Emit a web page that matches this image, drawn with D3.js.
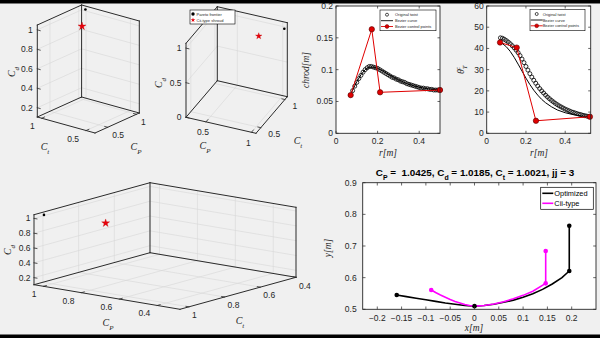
<!DOCTYPE html>
<html><head><meta charset="utf-8">
<script src="https://cdn.jsdelivr.net/npm/d3@7"></script>
<style>
html,body{margin:0;padding:0;background:#f0f0f0;}
svg{display:block;}
text{font-family:"Liberation Sans",Arial,sans-serif;fill:#262626;white-space:pre;}
.tex{font-family:"Liberation Serif","Times New Roman",serif;font-style:italic;}
</style></head><body>
<svg id="c" width="600" height="338"></svg>
<script>
// ---------------- DATA ----------------
// Pareto frontier point (black) and Cii-type shroud (red star) in (CP, Ct, Cd)
const paretoCP = [1.0425], paretoCt = [1.0021], paretoCd = [1.0185];
const ciiCP = [0.818], ciiCt = [0.895], ciiCd = [0.933];
// 3D tick labels
const cpTicksA = [0.5, 1], ctTicksA = [0.5, 1], cdTicksA = [0.2, 0.4, 0.6, 0.8, 1];
const cpTicksB = [0.5, 1], ctTicksB = [0.5, 1], cdTicksB = [0, 0.5, 1];
const cpTicksC = [0.4, 0.6, 0.8, 1], ctTicksC = [0.4, 0.6, 0.8, 1], cdTicksC = [0.2, 0.4, 0.6, 0.8, 1];

// chord distribution
const chordR = [0.07,0.08,0.09,0.10,0.11,0.12,0.13,0.14,0.15,0.16,0.17,0.18,0.19,0.20,0.21,0.22,0.23,0.24,0.25,0.26,0.27,0.28,0.29,0.30,0.31,0.32,0.33,0.34,0.35,0.36,0.37,0.38,0.39,0.40,0.41,0.42,0.43,0.44,0.45,0.46,0.47,0.48,0.49,0.50];
const chordVal = [0.060,0.067,0.074,0.080,0.086,0.091,0.096,0.100,0.103,0.105,0.105,0.104,0.103,0.102,0.100,0.098,0.096,0.094,0.092,0.090,0.088,0.087,0.085,0.084,0.082,0.081,0.080,0.078,0.077,0.076,0.075,0.074,0.073,0.072,0.071,0.071,0.070,0.070,0.069,0.069,0.068,0.068,0.068,0.068];
const chordBezR = [0.0705,0.08,0.10,0.12,0.14,0.16,0.18,0.20,0.23,0.26,0.30,0.34,0.38,0.42,0.46,0.50];
const chordBezVal = [0.060,0.068,0.081,0.092,0.100,0.104,0.104,0.102,0.097,0.091,0.084,0.078,0.074,0.071,0.069,0.068];
const chordCtrlR = [0.0705,0.172,0.212,0.50];
const chordCtrlVal = [0.060,0.1634,0.0644,0.068];
const chordXTicks = [0,0.2,0.4], chordYTicks = [0,0.05,0.1,0.15,0.2];

// twist distribution
const twistR = [0.07,0.08,0.09,0.10,0.11,0.12,0.13,0.14,0.15,0.16,0.17,0.18,0.19,0.20,0.21,0.22,0.23,0.24,0.25,0.26,0.27,0.28,0.29,0.30,0.31,0.32,0.33,0.34,0.35,0.36,0.37,0.38,0.39,0.40,0.41,0.42,0.43,0.44,0.45,0.46,0.47,0.48,0.49,0.50,0.51,0.52];
const twistVal = [45.0,44.8,44.3,43.7,43.0,42.2,41.3,40.3,39.2,38.0,36.6,35.0,33.3,31.5,29.8,28.1,26.5,25.0,23.6,22.3,21.1,20.0,19.0,18.0,17.1,16.3,15.5,14.8,14.1,13.5,12.9,12.4,11.9,11.4,11.0,10.6,10.2,9.9,9.6,9.3,9.0,8.8,8.5,8.3,8.1,7.9];
const twistBezR = [0.068,0.08,0.10,0.12,0.14,0.16,0.18,0.20,0.22,0.24,0.26,0.28,0.30,0.33,0.36,0.40,0.44,0.48,0.525];
const twistBezVal = [42.8,42.3,40.8,38.6,35.8,32.6,29.3,26.0,23.0,20.3,18.0,16.0,14.4,12.5,11.0,9.7,8.8,8.2,7.8];
const twistCtrlR = [0.068,0.153,0.251,0.526];
const twistCtrlVal = [42.8,40.4,5.9,7.8];
const twistXTicks = [0,0.2,0.4], twistYTicks = [0,10,20,30,40,50,60];

// shroud profile
const optX = [-0.16,-0.14,-0.12,-0.10,-0.08,-0.06,-0.04,-0.02,0,0.02,0.04,0.06,0.08,0.10,0.12,0.14,0.16,0.18,0.195,0.195];
const optY = [0.545,0.540,0.535,0.530,0.525,0.520,0.516,0.512,0.510,0.512,0.516,0.522,0.529,0.538,0.549,0.563,0.580,0.600,0.621,0.764];
const optMarkX = [-0.16,0,0.195,0.195], optMarkY = [0.545,0.510,0.621,0.764];
const ciiX = [-0.089,-0.08,-0.07,-0.06,-0.05,-0.04,-0.03,-0.02,-0.01,0,0.02,0.04,0.06,0.08,0.10,0.12,0.1465,0.1465];
const ciiY = [0.561,0.553,0.545,0.538,0.531,0.525,0.520,0.515,0.512,0.510,0.512,0.517,0.524,0.533,0.544,0.557,0.582,0.684];
const ciiMarkX = [-0.089,0.1465,0.1465], ciiMarkY = [0.561,0.582,0.684];
const profXTicks = [-0.2,-0.15,-0.1,-0.05,0,0.05,0.1,0.15,0.2], profYTicks = [0.5,0.6,0.7,0.8,0.9];

// ---------------- DRAW ----------------
const svg = d3.select('#c');
svg.append('rect').attr('width',600).attr('height',338).attr('fill','#f0f0f0');
const INK = '#262626';
const fmt = d3.format('~g');

function sub(t, main, s){
  t.append('tspan').text(main);
  t.append('tspan').attr('baseline-shift','sub').attr('font-size','70%').text(s);
}

function draw3D(cfg){
  const g = svg.append('g');
  const sCP = d3.scaleLinear().domain(cfg.cpDom).range([0,1]);
  const sCt = d3.scaleLinear().domain(cfg.ctDom).range([0,1]);
  const sZ  = d3.scaleLinear().domain(cfg.zDom).range([0,1]);
  const P = (cp,ct,z)=>[cfg.O[0]+sCP(cp)*cfg.vCP[0]+sCt(ct)*cfg.vCt[0]+sZ(z)*cfg.vZ[0],
                        cfg.O[1]+sCP(cp)*cfg.vCP[1]+sCt(ct)*cfg.vCt[1]+sZ(z)*cfg.vZ[1]];
  const [cp0,cp1]=cfg.cpDom, [ct0,ct1]=cfg.ctDom, [z0,z1]=cfg.zDom;
  const bCP = cfg.backCP?cp1:cp0, fCP = cfg.backCP?cp0:cp1;
  const bCt = cfg.backCt?ct1:ct0, fCt = cfg.backCt?ct0:ct1;
  const line = (a,b,col,w)=>g.append('line').attr('x1',a[0]).attr('y1',a[1]).attr('x2',b[0]).attr('y2',b[1])
      .attr('stroke',col).attr('stroke-width',w).attr('stroke-linecap','square');
  const inD = (v,d)=> v>=Math.min(...d)-1e-9 && v<=Math.max(...d)+1e-9;
  const GC = '#d6d6d6';
  cfg.ctTicks.filter(t=>inD(t,cfg.ctDom)).forEach(t=>{ line(P(bCP,t,z0),P(bCP,t,z1),GC,0.6); line(P(cp0,t,z0),P(cp1,t,z0),GC,0.6); });
  cfg.cpTicks.filter(t=>inD(t,cfg.cpDom)).forEach(t=>{ line(P(t,bCt,z0),P(t,bCt,z1),GC,0.6); line(P(t,ct0,z0),P(t,ct1,z0),GC,0.6); });
  cfg.zTicks.filter(t=>inD(t,cfg.zDom)).forEach(t=>{ line(P(bCP,ct0,t),P(bCP,ct1,t),GC,0.6); line(P(cp0,bCt,t),P(cp1,bCt,t),GC,0.6); });
  // box (back style)
  const BC='#2b2b2b', BW=1;
  line(P(cp0,ct0,z0),P(cp1,ct0,z0),BC,BW); line(P(cp0,ct1,z0),P(cp1,ct1,z0),BC,BW);
  line(P(cp0,ct0,z0),P(cp0,ct1,z0),BC,BW); line(P(cp1,ct0,z0),P(cp1,ct1,z0),BC,BW);
  [[bCP,bCt],[bCP,fCt],[fCP,bCt]].forEach(([a,b])=>line(P(a,b,z0),P(a,b,z1),BC,BW));
  line(P(bCP,bCt,z1),P(fCP,bCt,z1),BC,BW); line(P(bCP,bCt,z1),P(bCP,fCt,z1),BC,BW);
  // ticks
  const unit=(a,b)=>{const dx=b[0]-a[0],dy=b[1]-a[1],l=Math.hypot(dx,dy);return [dx/l,dy/l];};
  const TL=3;
  const sides=[[bCP,fCt],[fCP,bCt]];
  const zc = P(...sides[0],z0)[0] < P(...sides[1],z0)[0] ? sides[0] : sides[1];
  const zdir = unit(P(zc[0],zc[1],z0), P(fCP,fCt,z0));
  cfg.zTicks.filter(t=>inD(t,cfg.zDom)).forEach(t=>{
    const p=P(zc[0],zc[1],t); line(p,[p[0]+zdir[0]*TL,p[1]+zdir[1]*TL],BC,0.8);
    g.append('text').attr('x',p[0]+cfg.zLab[0]).attr('y',p[1]+cfg.zLab[1]).attr('text-anchor','end')
      .attr('dominant-baseline','central').attr('font-size',cfg.fs).text(fmt(t));
  });
  const cpdir = unit(P(cp0,fCt,z0),P(cp0,bCt,z0));
  cfg.cpTicks.filter(t=>inD(t,cfg.cpDom)).forEach(t=>{
    const p=P(t,fCt,z0); line(p,[p[0]+cpdir[0]*TL,p[1]+cpdir[1]*TL],BC,0.8);
    g.append('text').attr('x',p[0]+cfg.cpLab[0]).attr('y',p[1]+cfg.cpLab[1]).attr('text-anchor',cfg.cpLab[2])
      .attr('dominant-baseline','central').attr('font-size',cfg.fs).text(fmt(t));
  });
  const ctdir = unit(P(fCP,ct0,z0),P(bCP,ct0,z0));
  cfg.ctTicks.filter(t=>inD(t,cfg.ctDom)).forEach(t=>{
    const p=P(fCP,t,z0); line(p,[p[0]+ctdir[0]*TL,p[1]+ctdir[1]*TL],BC,0.8);
    g.append('text').attr('x',p[0]+cfg.ctLab[0]).attr('y',p[1]+cfg.ctLab[1]).attr('text-anchor',cfg.ctLab[2])
      .attr('dominant-baseline','central').attr('font-size',cfg.fs).text(fmt(t));
  });
  // axis labels
  const lab=(pos,s,rot)=>{const t=g.append('text').attr('class','tex').attr('font-size',10).attr('text-anchor','middle')
      .attr('transform',`translate(${pos[0]},${pos[1]})`+(rot?' rotate(-90)':'')); sub(t,'C',s); };
  lab(cfg.cdPos,'d',true); lab(cfg.cpPos,'P'); lab(cfg.ctPos,'t');
  // data
  paretoCP.forEach((v,i)=>{const p=P(v,paretoCt[i],paretoCd[i]);
    g.append('circle').attr('cx',p[0]).attr('cy',p[1]).attr('r',1.3).attr('fill','#000');});
  ciiCP.forEach((v,i)=>{const p=P(v,ciiCt[i],ciiCd[i]);
    g.append('path').attr('d',d3.symbol().type(d3.symbolStar).size(cfg.starSize)()).attr('transform',`translate(${p[0]},${p[1]})`)
      .attr('fill','#e8000b').attr('stroke','#c00000').attr('stroke-width',0.3);});
  return g;
}

// top-left
draw3D({O:[95,133], vCP:[44.3,-20], vCt:[-57.7,-16], vZ:[0,-92],
  cpDom:[0.28,1.05], ctDom:[0.4,1.05], zDom:[0.105,1.05], backCP:1, backCt:1,
  cpTicks:cpTicksA, ctTicks:ctTicksA, zTicks:cdTicksA, fs:8.5,
  zLab:[-4.5,0], cpLab:[4.5,8.2,'start'], ctLab:[-7,8,'end'],
  cdPos:[15,72], cpPos:[136,150], ctPos:[45,150], starSize:20});
// top-middle
draw3D({O:[186,117.3], vCP:[70,16], vCt:[31.3,-36.6], vZ:[0,-74],
  cpDom:[0.28,1.05], ctDom:[0.4,1.05], zDom:[0,1.07], backCP:0, backCt:1,
  cpTicks:cpTicksB, ctTicks:ctTicksB, zTicks:cdTicksB, fs:8.5,
  zLab:[-4.5,0], cpLab:[-3,10.5,'middle'], ctLab:[7.5,6.5,'start'],
  cdPos:[162,83], cpPos:[205,149], ctPos:[298,144], starSize:13});
// bottom-left
draw3D({O:[296,277.3], vCP:[-146,-24.6], vCt:[-116,32], vZ:[0,-70],
  cpDom:[0.28,1.05], ctDom:[0.4,1.05], zDom:[0.105,1.05], backCP:1, backCt:0,
  cpTicks:cpTicksC, ctTicks:ctTicksC, zTicks:cdTicksC, fs:8.5,
  zLab:[-3.5,0], cpLab:[-7,8,'end'], ctLab:[3,8.2,'start'],
  cdPos:[11,250], cpPos:[108,326], ctPos:[240,324], starSize:20});

// legend in top-middle
(function(){
  const g=svg.append('g');
  g.append('rect').attr('x',190).attr('y',10).attr('width',45).attr('height',14).attr('fill','#fff').attr('stroke','#000').attr('stroke-width',0.6);
  g.append('circle').attr('cx',193).attr('cy',14).attr('r',1.7).attr('fill','#000');
  g.append('path').attr('d',d3.symbol().type(d3.symbolStar).size(7)()).attr('transform','translate(193,20)').attr('fill','#e8000b');
  g.append('text').attr('x',196.5).attr('y',14).attr('dominant-baseline','central').attr('font-size',4).text('Pareto frontier');
  g.append('text').attr('x',196.5).attr('y',20).attr('dominant-baseline','central').attr('font-size',4).text('Cii-type shroud');
})();

// 2D axes helper
function axes2D(o){
  const g=svg.append('g');
  const [xl,xr]=o.x.range(), [yb,yt]=o.y.range();
  g.append('rect').attr('x',xl).attr('y',yt).attr('width',xr-xl).attr('height',yb-yt).attr('fill','#fff');
  const gd=g.append('g');
  const gf=g.append('g');
  o.draw(gd);
  const tl=o.tl||2.5;
  o.xTicks.forEach(t=>{const x=o.x(t);
    gf.append('line').attr('x1',x).attr('x2',x).attr('y1',yb).attr('y2',yb-tl).attr('stroke',INK).attr('stroke-width',0.7);
    gf.append('line').attr('x1',x).attr('x2',x).attr('y1',yt).attr('y2',yt+tl).attr('stroke',INK).attr('stroke-width',0.7);
    gf.append('text').attr('x',x).attr('y',yb+o.xLabDy).attr('text-anchor','middle').attr('dominant-baseline','central').attr('font-size',o.fs).text(fmt(t));
  });
  o.yTicks.forEach(t=>{const y=o.y(t);
    gf.append('line').attr('x1',xl).attr('x2',xl+tl).attr('y1',y).attr('y2',y).attr('stroke',INK).attr('stroke-width',0.7);
    gf.append('line').attr('x1',xr).attr('x2',xr-tl).attr('y1',y).attr('y2',y).attr('stroke',INK).attr('stroke-width',0.7);
    gf.append('text').attr('x',xl-o.yLabDx).attr('y',y).attr('text-anchor','end').attr('dominant-baseline','central').attr('font-size',o.fs).text(fmt(t));
  });
  gf.append('rect').attr('x',xl).attr('y',yt).attr('width',xr-xl).attr('height',yb-yt).attr('fill','none').attr('stroke',INK).attr('stroke-width',0.9);
  return g;
}

function legendBlade(x0,y0,w,h,cx,tx){
  const g=svg.append('g');
  g.append('rect').attr('x',x0).attr('y',y0).attr('width',w).attr('height',h).attr('fill','#fff').attr('stroke','#000').attr('stroke-width',0.6);
  const rows=[y0+4.7,y0+10.7,y0+16.5];
  g.append('circle').attr('cx',cx).attr('cy',rows[0]).attr('r',1.5).attr('fill','none').attr('stroke','#000').attr('stroke-width',0.7);
  g.append('line').attr('x1',cx-6).attr('x2',cx+6).attr('y1',rows[1]).attr('y2',rows[1]).attr('stroke','#000').attr('stroke-width',0.9);
  g.append('line').attr('x1',cx-6).attr('x2',cx+6).attr('y1',rows[2]).attr('y2',rows[2]).attr('stroke','#e00000').attr('stroke-width',0.9);
  g.append('circle').attr('cx',cx).attr('cy',rows[2]).attr('r',1.9).attr('fill','#e00000').attr('stroke','#600').attr('stroke-width',0.5);
  ['Original twist','Bezier curve','Bezier control points'].forEach((s,i)=>
    g.append('text').attr('x',tx).attr('y',rows[i]).attr('dominant-baseline','central').attr('font-size',4).text(s));
}

// chord panel
(function(){
  const x=d3.scaleLinear().domain([0,0.5]).range([336,440]);
  const y=d3.scaleLinear().domain([0,0.2]).range([133.3,6]);
  axes2D({x,y,xTicks:chordXTicks,yTicks:chordYTicks,fs:8.5,xLabDy:7.5,yLabDx:3,draw:g=>{
    g.append('path').attr('d',d3.line().x((d,i)=>x(chordBezR[i])).y(d=>y(d))(chordBezVal)).attr('fill','none').attr('stroke','#000').attr('stroke-width',1);
    chordR.forEach((r,i)=>g.append('circle').attr('cx',x(r)).attr('cy',y(chordVal[i])).attr('r',2).attr('fill','none').attr('stroke','#000').attr('stroke-width',0.8));
    g.append('path').attr('d',d3.line().x((d,i)=>x(chordCtrlR[i])).y(d=>y(d))(chordCtrlVal)).attr('fill','none').attr('stroke','#e00000').attr('stroke-width',1);
    chordCtrlR.forEach((r,i)=>g.append('circle').attr('cx',x(r)).attr('cy',y(chordCtrlVal[i])).attr('r',2.7).attr('fill','#e00000').attr('stroke','#500').attr('stroke-width',0.6));
  }});
  legendBlade(380,10,56,20.7,387,395);
  svg.append('text').attr('class','tex').attr('font-size',9.5).attr('text-anchor','middle').attr('transform','translate(309,70) rotate(-90)').text('chrod[m]');
  svg.append('text').attr('class','tex').attr('font-size',9.5).attr('text-anchor','middle').attr('x',388).attr('y',156).text('r[m]');
})();

// twist panel
(function(){
  const x=d3.scaleLinear().domain([0,0.53]).range([486.7,590.7]);
  const y=d3.scaleLinear().domain([0,60]).range([133.3,6]);
  axes2D({x,y,xTicks:twistXTicks,yTicks:twistYTicks,fs:8.5,xLabDy:7.5,yLabDx:3,draw:g=>{
    g.append('path').attr('d',d3.line().x((d,i)=>x(twistBezR[i])).y(d=>y(d))(twistBezVal)).attr('fill','none').attr('stroke','#000').attr('stroke-width',1);
    twistR.forEach((r,i)=>g.append('circle').attr('cx',x(r)).attr('cy',y(twistVal[i])).attr('r',2).attr('fill','none').attr('stroke','#000').attr('stroke-width',0.8));
    g.append('path').attr('d',d3.line().x((d,i)=>x(twistCtrlR[i])).y(d=>y(d))(twistCtrlVal)).attr('fill','none').attr('stroke','#e00000').attr('stroke-width',1);
    twistCtrlR.forEach((r,i)=>g.append('circle').attr('cx',x(r)).attr('cy',y(twistCtrlVal[i])).attr('r',2.7).attr('fill','#e00000').attr('stroke','#500').attr('stroke-width',0.6));
  }});
  legendBlade(530,9.3,55,21.4,536.7,542.7);
  const t=svg.append('text').attr('class','tex').attr('font-size',10).attr('text-anchor','middle').attr('transform','translate(464,70) rotate(-90)');
  t.append('tspan').text('θ');
  t.append('tspan').attr('font-size','70%').attr('dy',3).text('T');
  t.append('tspan').attr('font-size','70%').attr('dx',-4).attr('dy',-7).text('c');
  svg.append('text').attr('class','tex').attr('font-size',9.5).attr('text-anchor','middle').attr('x',539).attr('y',156).text('r[m]');
})();

// shroud profile panel
(function(){
  const x=d3.scaleLinear().domain([-0.23,0.25]).range([362.7,596]);
  const y=d3.scaleLinear().domain([0.5,0.9]).range([309.3,182.7]);
  axes2D({x,y,xTicks:profXTicks,yTicks:profYTicks,fs:8.5,xLabDy:9,yLabDx:6,tl:2.8,draw:g=>{
    const ln=d3.line().x(d=>x(d[0])).y(d=>y(d[1]));
    g.append('path').attr('d',ln(optX.map((v,i)=>[v,optY[i]]))).attr('fill','none').attr('stroke','#000').attr('stroke-width',1.6);
    g.append('path').attr('d',ln(ciiX.map((v,i)=>[v,ciiY[i]]))).attr('fill','none').attr('stroke','#ff00ff').attr('stroke-width',1.6);
    optMarkX.forEach((v,i)=>g.append('circle').attr('cx',x(v)).attr('cy',y(optMarkY[i])).attr('r',2.3).attr('fill','#000'));
    ciiMarkX.forEach((v,i)=>g.append('circle').attr('cx',x(v)).attr('cy',y(ciiMarkY[i])).attr('r',2.3).attr('fill','#ff00ff'));
  }});
  const lg=svg.append('g');
  lg.append('rect').attr('x',540.7).attr('y',187.3).attr('width',52.6).attr('height',22).attr('fill','#fff').attr('stroke','#000').attr('stroke-width',0.7);
  [['Optimized','#000',193.3],['Cii-type','#ff00ff',203.3]].forEach(([s,c,yy])=>{
    lg.append('line').attr('x1',542.3).attr('x2',553.3).attr('y1',yy).attr('y2',yy).attr('stroke',c).attr('stroke-width',1.6);
    lg.append('text').attr('x',554.3).attr('y',yy).attr('dominant-baseline','central').attr('font-size',7.4).style('fill','#000').text(s);
  });
  const tt=svg.append('text').attr('x',475).attr('y',175.5).attr('text-anchor','middle').attr('font-size',9.9).attr('font-weight','bold').style('fill','#000');
  sub(tt,'C','P'); tt.append('tspan').text(' =  1.0425, C');
  tt.append('tspan').attr('baseline-shift','sub').attr('font-size','70%').text('d');
  tt.append('tspan').text(' = 1.0185, C');
  tt.append('tspan').attr('baseline-shift','sub').attr('font-size','70%').text('t');
  tt.append('tspan').text(' = 1.0021, jj = 3');
  svg.append('text').attr('class','tex').attr('font-size',9.5).attr('text-anchor','middle').attr('transform','translate(331,248) rotate(-90)').text('y[m]');
  svg.append('text').attr('class','tex').attr('font-size',9.5).attr('text-anchor','middle').attr('x',474).attr('y',331).text('x[m]');
})();

// black frame bars
svg.append('rect').attr('x',0).attr('y',0).attr('width',600).attr('height',3.5).attr('fill','#000');
svg.append('rect').attr('x',0).attr('y',334.5).attr('width',600).attr('height',3.5).attr('fill','#000');
</script></body></html>
